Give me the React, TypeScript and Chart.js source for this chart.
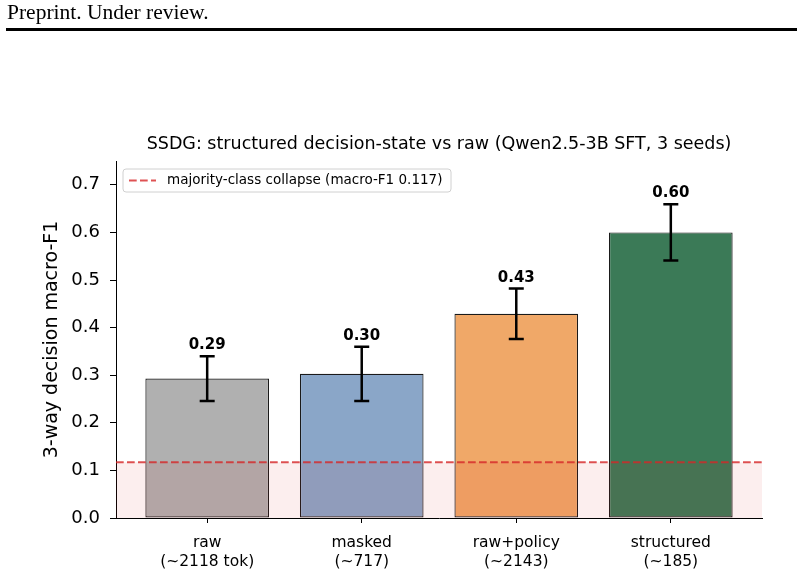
import { useEffect, useRef } from 'react';
import { Chart, registerables } from 'chart.js';

Chart.register(...registerables);

// Conditions and their average prompt lengths
const categories = ['raw', 'masked', 'raw+policy', 'structured'];
const tokenNotes = ['(~2118 tok)', '(~717)', '(~2143)', '(~185)'];

// Mean and std of 3-way decision macro-F1 over 3 seeds
const meanF1 = [0.293, 0.303, 0.429, 0.6];
const stdF1 = [0.047, 0.057, 0.053, 0.059];

const barColors = ['#b0b0b0', '#8aa6c8', '#f0a868', '#3b7a57'];

const yTicks = [0, 0.1, 0.2, 0.3, 0.4, 0.5, 0.6, 0.7];
const yMax = 0.75;
const xMin = -0.59;
const xMax = 3.59;

// Macro-F1 of always predicting the majority class
const collapseF1 = 0.117;

const FONT = '"DejaVu Sans", sans-serif';

const annotate = {
  id: 'annotate',
  afterDatasetsDraw(chart: any) {
    const { ctx } = chart;
    const x = chart.scales.x;
    const y = chart.scales.y;
    ctx.save();
    ctx.strokeStyle = '#000';
    ctx.fillStyle = '#000';
    ctx.lineWidth = 2.5;
    meanF1.forEach((m, i) => {
      const px = x.getPixelForValue(i);
      const top = y.getPixelForValue(m + stdF1[i]);
      const bot = y.getPixelForValue(m - stdF1[i]);
      ctx.beginPath();
      ctx.moveTo(px, top);
      ctx.lineTo(px, bot);
      ctx.moveTo(px - 7.5, top);
      ctx.lineTo(px + 7.5, top);
      ctx.moveTo(px - 7.5, bot);
      ctx.lineTo(px + 7.5, bot);
      ctx.stroke();
      ctx.font = `bold 15px ${FONT}`;
      ctx.textAlign = 'center';
      ctx.textBaseline = 'alphabetic';
      ctx.fillText(m.toFixed(2), px, top - 7);
    });
    ctx.restore();
  },
  afterDraw(chart: any) {
    const { ctx, chartArea } = chart;
    ctx.save();

    // page header
    ctx.fillStyle = '#000';
    ctx.font = '21.5px "Liberation Serif", serif';
    ctx.textAlign = 'left';
    ctx.textBaseline = 'alphabetic';
    ctx.fillText('Preprint. Under review.', 7, 19);
    ctx.fillRect(6, 28, 791, 3);

    // title
    ctx.font = `17.5px ${FONT}`;
    ctx.textAlign = 'center';
    ctx.textBaseline = 'middle';
    ctx.fillText(
      'SSDG: structured decision-state vs raw (Qwen2.5-3B SFT, 3 seeds)',
      (chartArea.left + chartArea.right) / 2,
      144
    );

    // y axis title
    ctx.save();
    ctx.translate(52, (chartArea.top + chartArea.bottom) / 2);
    ctx.rotate(-Math.PI / 2);
    ctx.font = `19px ${FONT}`;
    ctx.fillText('3-way decision macro-F1', 0, 0);
    ctx.restore();

    // legend
    const lx = chartArea.left + 7;
    const ly = chartArea.top + 8;
    const lw = 328;
    const lh = 23;
    ctx.beginPath();
    ctx.roundRect(lx, ly, lw, lh, 3);
    ctx.fillStyle = 'rgba(255,255,255,0.8)';
    ctx.fill();
    ctx.strokeStyle = '#d0d0d0';
    ctx.lineWidth = 1;
    ctx.stroke();
    const cy = ly + lh / 2;
    ctx.beginPath();
    ctx.setLineDash([7.7, 3.3]);
    ctx.strokeStyle = 'rgba(214,39,40,0.8)';
    ctx.lineWidth = 2;
    ctx.moveTo(lx + 6, cy);
    ctx.lineTo(lx + 33, cy);
    ctx.stroke();
    ctx.setLineDash([]);
    ctx.fillStyle = '#000';
    ctx.font = `13.5px ${FONT}`;
    ctx.textAlign = 'left';
    ctx.textBaseline = 'middle';
    ctx.fillText(`majority-class collapse (macro-F1 ${collapseF1.toFixed(3)})`, lx + 44, cy);

    ctx.restore();
  },
};

export default function App() {
  const canvasRef = useRef<HTMLCanvasElement | null>(null);

  useEffect(() => {
    const canvas = canvasRef.current;
    if (!canvas) return;
    const chart = new Chart(canvas, {
      type: 'bar',
      data: {
        datasets: [
          {
            type: 'line',
            data: [
              { x: xMin, y: collapseF1 },
              { x: xMax, y: collapseF1 },
            ],
            borderColor: 'rgba(214,39,40,0.8)',
            borderWidth: 2,
            borderDash: [7.7, 3.3],
            pointRadius: 0,
            fill: 'origin',
            backgroundColor: 'rgba(214,39,40,0.08)',
            order: 0,
          } as any,
          {
            type: 'bar',
            data: meanF1.map((v, i) => ({ x: i, y: v })),
            backgroundColor: barColors,
            borderColor: '#1a1a1a',
            borderWidth: 1.2,
            borderSkipped: false,
            barPercentage: 0.8,
            categoryPercentage: 1,
            order: 1,
          } as any,
        ],
      },
      options: {
        responsive: false,
        animation: false,
        devicePixelRatio: 1,
        layout: { padding: { top: 161, right: 42, left: 0, bottom: 0 } },
        plugins: {
          legend: { display: false },
          tooltip: { enabled: false },
          title: { display: false },
        },
        scales: {
          x: {
            type: 'linear',
            min: xMin,
            max: xMax,
            offset: false,
            afterBuildTicks: (s: any) => {
              s.ticks = categories.map((_, i) => ({ value: i }));
            },
            afterFit: (s: any) => {
              s.height = 55;
            },
            grid: {
              offset: false,
              drawOnChartArea: false,
              drawTicks: true,
              tickLength: 5,
              color: '#000',
            },
            border: { display: true, color: '#000', width: 1 },
            ticks: {
              color: '#000',
              font: { family: FONT, size: 15.5 },
              padding: 11,
              maxRotation: 0,
              autoSkip: false,
              callback: (_v: any, i: number) => [categories[i], tokenNotes[i]],
            },
          },
          y: {
            min: 0,
            max: yMax,
            afterBuildTicks: (s: any) => {
              s.ticks = yTicks.map((v) => ({ value: v }));
            },
            afterFit: (s: any) => {
              s.width = 116;
            },
            grid: {
              drawOnChartArea: false,
              drawTicks: true,
              tickLength: 6,
              color: '#000',
            },
            border: { display: true, color: '#000', width: 1 },
            ticks: {
              color: '#000',
              font: { family: FONT, size: 18 },
              padding: 10,
              callback: (v: any) => Number(v).toFixed(1),
            },
          },
        },
      } as any,
      plugins: [annotate],
    });
    return () => chart.destroy();
  }, []);

  return (
    <div style={{ position: 'fixed', left: 0, top: 0, width: 804, height: 573, background: '#fff' }}>
      <canvas ref={canvasRef} width={804} height={573} style={{ display: 'block' }} />
    </div>
  );
}
